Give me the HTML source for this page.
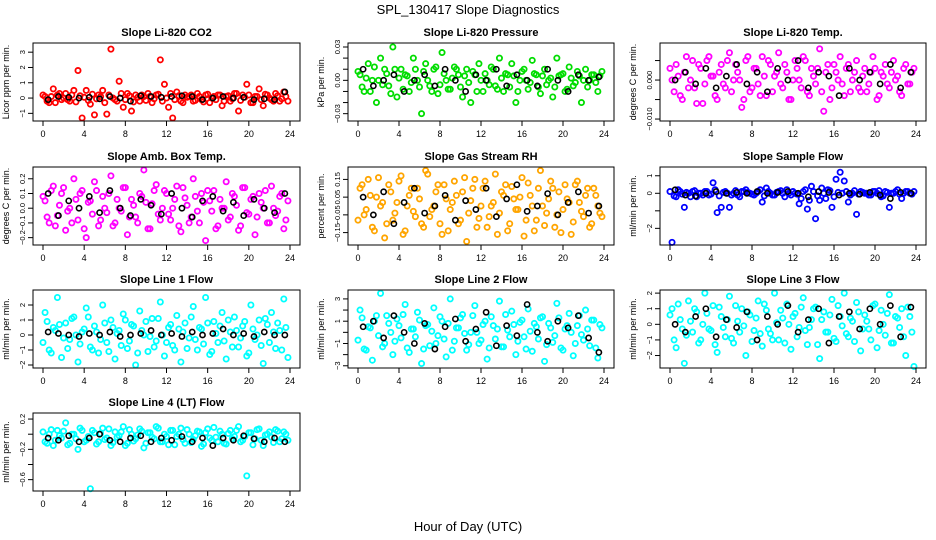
<!DOCTYPE html>
<html><head><meta charset="utf-8"><style>
body{margin:0;background:#fff}
svg{display:block;font-family:"Liberation Sans",sans-serif}
</style></head><body>
<svg id="chart" width="936" height="540" xmlns="http://www.w3.org/2000/svg">
<text x="468" y="14" text-anchor="middle" font-size="13">SPL_130417  Slope Diagnostics</text>
<text x="468" y="531" text-anchor="middle" font-size="13">Hour of Day (UTC)</text>
</svg>
<script>
const hours60=[0.2,0.6,1.0,1.4,1.8,2.2,2.6,3.0,3.4,3.8,4.2,4.6,5.0,5.4,5.8,6.2,6.6,7.0,7.4,7.8,8.2,8.6,9.0,9.4,9.8,10.2,10.6,11.0,11.4,11.8,12.2,12.6,13.0,13.4,13.8,14.2,14.6,15.0,15.4,15.8,16.2,16.6,17.0,17.4,17.8,18.2,18.6,19.0,19.4,19.8,20.2,20.6,21.0,21.4,21.8,22.2,22.6,23.0,23.4,23.8];
const hours60b=[0.0,0.4,0.8,1.2,1.6,2.0,2.4,2.8,3.2,3.6,4.0,4.4,4.8,5.2,5.6,6.0,6.4,6.8,7.2,7.6,8.0,8.4,8.8,9.2,9.6,10.0,10.4,10.8,11.2,11.6,12.0,12.4,12.8,13.2,13.6,14.0,14.4,14.8,15.2,15.6,16.0,16.4,16.8,17.2,17.6,18.0,18.4,18.8,19.2,19.6,20.0,20.4,20.8,21.2,21.6,22.0,22.4,22.8,23.2,23.6];
const hours24=[0.5,1.5,2.5,3.5,4.5,5.5,6.5,7.5,8.5,9.5,10.5,11.5,12.5,13.5,14.5,15.5,16.5,17.5,18.5,19.5,20.5,21.5,22.5,23.5];
const xTicks=[0,4,8,12,16,20,24];

const co2Vals=[0.1,-0.3,0.6,0.2,-0.1,0.3,-0.2,0.5,1.8,-1.3,0.5,-0.4,-1.1,0.2,0.5,-1.05,3.2,-0.1,1.1,-0.6,0.3,-0.85,0.2,-0.2,0.1,0.3,-0.3,0.2,2.5,0.9,-0.6,-1.3,0.4,-0.2,0.2,0.1,-0.2,0.3,-0.1,0.2,-0.3,0.1,0.2,-0.5,0.1,-0.2,0.3,-0.85,0.2,0.9,-0.3,0.1,0.6,-0.5,0.2,-0.1,0.3,-0.2,0.4,-0.2];
const co2Core=[0.2,-0.2,0.1,-0.3,0.3,0.0,-0.1,0.2,-0.25,0.15,0.05,-0.15,0.25,-0.05,0.1,-0.3,0.2,0.0,-0.2,0.3,-0.1,0.15,-0.25,0.05,0.2,-0.15,0.1,-0.05,0.25,-0.2,0.0,0.3,-0.1,0.15,-0.3,0.05,0.2,-0.15,0.1,-0.25,0.25,0.0,-0.1,0.2,-0.2,0.15,-0.05,0.3,-0.15,0.05,0.2,-0.3,0.1,-0.1,0.25,0.0,-0.2,0.15,-0.05,0.1];
const co2Hourly=[-0.1,0.1,0.05,0.0,0.05,-0.05,0.1,0.0,-0.2,0.15,0.1,0.05,0.1,0.15,0.1,-0.1,0.0,0.1,0.0,0.05,-0.1,-0.05,-0.1,0.4];
const presVals=[0.005,-0.01,0.015,0.0,-0.02,0.02,0.01,-0.005,0.03,-0.015,0.01,0.005,-0.01,0.02,0.0,-0.03,0.015,-0.005,0.01,-0.012,0.025,0.0,-0.008,0.012,0.005,-0.015,0.01,-0.02,0.005,0.015,-0.01,0.0,0.012,-0.005,0.02,-0.01,0.005,0.015,-0.02,0.0,0.01,-0.008,0.018,0.005,-0.012,0.01,0.0,-0.015,0.02,0.005,-0.01,0.012,-0.005,0.008,-0.02,0.01,0.0,0.005,-0.01,0.008];
const presCore=[0.008,-0.006,0.002,-0.01,0.012,0.0,-0.004,0.006,-0.012,0.01,0.002,-0.008,0.004,-0.002,0.01,-0.006,0.008,0.0,-0.01,0.012,-0.004,0.006,-0.008,0.002,0.01,-0.006,0.004,-0.002,0.008,-0.01,0.0,0.006,-0.004,0.01,-0.008,0.002,0.006,-0.006,0.004,-0.01,0.008,0.0,-0.002,0.006,-0.006,0.004,-0.004,0.002,-0.006,0.004,0.006,-0.008,0.002,-0.002,0.004,0.0,-0.006,0.005,-0.002,0.004];
const presHourly=[0.01,-0.005,0.0,0.005,-0.01,0.0,0.005,-0.005,0.01,0.0,-0.01,0.005,0.0,0.01,-0.005,0.005,0.0,-0.005,0.01,0.0,-0.01,0.005,0.0,0.003];
const tempVals=[0.0,0.004,-0.004,0.002,-0.002,0.005,-0.006,0.003,-0.001,0.006,0.001,-0.005,0.004,-0.002,0.007,0.0,0.002,-0.007,0.005,-0.003,0.003,-0.001,0.006,-0.004,0.004,0.001,0.007,-0.002,0.002,-0.005,0.005,0.0,0.006,-0.003,0.003,-0.001,0.008,-0.008,0.004,-0.002,0.002,0.006,-0.004,0.004,0.0,0.005,-0.003,0.003,-0.001,0.006,-0.005,0.002,0.004,-0.002,0.005,0.001,-0.004,0.004,-0.001,0.003];
const tempCore=[0.003,-0.003,0.001,-0.005,0.006,0.0,-0.002,0.004,-0.006,0.005,0.001,-0.004,0.002,-0.001,0.005,-0.003,0.004,0.0,-0.005,0.006,-0.002,0.003,-0.004,0.001,0.005,-0.003,0.002,-0.001,0.004,-0.005,0.0,0.003,-0.002,0.005,-0.004,0.001,0.003,-0.003,0.002,-0.005,0.004,0.0,-0.001,0.003,-0.003,0.002,-0.002,0.001,-0.003,0.002,0.003,-0.004,0.001,-0.001,0.002,0.0,-0.003,0.003,-0.001,0.002];
const tempHourly=[0.0,0.002,-0.001,0.003,-0.002,0.001,0.004,-0.001,0.002,-0.003,0.003,0.0,0.005,-0.002,0.002,0.001,-0.004,0.003,0.0,0.002,-0.001,0.004,-0.002,0.002];
const ambVals=[0.05,-0.1,0.15,-0.05,0.1,-0.15,0.0,0.2,-0.08,0.12,-0.2,0.05,0.18,-0.12,0.08,-0.03,0.22,-0.1,0.0,0.14,-0.18,0.06,-0.06,0.1,0.26,-0.14,0.03,0.16,-0.08,0.12,-0.04,0.0,0.15,-0.16,0.07,-0.1,0.2,-0.02,0.1,-0.22,0.05,0.12,-0.12,0.0,0.18,-0.06,0.08,-0.15,0.14,-0.03,0.06,-0.18,0.1,0.0,-0.1,0.15,-0.05,0.08,-0.14,0.05];
const ambCore=[0.08,-0.06,0.12,-0.12,0.02,0.14,-0.02,-0.1,0.06,0.1,-0.14,0.04,-0.04,0.12,-0.08,0.0,0.1,-0.12,0.06,-0.02,0.14,-0.06,0.02,-0.1,0.08,0.04,-0.14,0.12,-0.04,0.0,0.1,-0.08,0.06,-0.12,0.14,0.02,-0.06,0.08,-0.1,0.04,0.12,-0.02,-0.14,0.06,0.0,-0.08,0.1,0.02,-0.12,0.14,-0.04,0.08,-0.06,0.04,0.12,-0.1,0.0,-0.02,0.1,-0.08];
const ambHourly=[0.1,-0.05,0.05,0.0,0.08,-0.03,0.12,0.0,-0.05,0.06,0.02,-0.04,0.1,0.0,-0.06,0.05,0.08,-0.02,0.04,-0.05,0.06,0.0,-0.03,0.1];
const rhVals=[0.1,-0.05,0.15,-0.12,0.05,0.0,-0.18,0.12,-0.08,0.02,0.17,-0.14,0.06,-0.03,0.1,-0.1,0.2,-0.06,0.0,0.12,-0.16,0.04,-0.02,0.14,-0.1,0.08,-0.2,0.03,0.15,-0.07,0.1,-0.12,0.0,0.18,-0.04,0.06,-0.14,0.11,-0.02,0.05,-0.17,0.13,0.0,-0.08,0.2,-0.11,0.04,0.1,-0.05,-0.15,0.12,0.02,-0.09,0.14,-0.03,0.06,-0.12,0.1,0.0,-0.06];
const rhCore=[-0.08,0.12,-0.02,0.06,-0.14,0.16,0.02,-0.1,0.08,-0.04,0.14,-0.16,0.0,0.1,-0.06,0.04,-0.12,0.18,-0.02,0.08,-0.1,0.12,-0.14,0.02,0.06,-0.08,0.16,-0.04,0.1,-0.12,0.0,0.14,-0.06,0.02,-0.16,0.08,0.12,-0.1,0.04,-0.02,0.16,-0.08,0.06,-0.14,0.1,0.0,-0.04,0.14,-0.12,0.08,-0.02,0.04,-0.16,0.12,0.02,-0.06,0.1,-0.1,0.06,-0.04];
const rhHourly=[0.05,-0.05,0.08,-0.1,0.02,0.1,-0.04,0.0,0.06,-0.08,0.03,-0.02,0.1,-0.06,0.04,0.12,-0.03,0.0,0.07,-0.05,0.02,0.08,-0.04,0.0];
const sampleVals=[-2.8,-0.2,0.1,-0.8,0.0,0.1,-0.2,0.0,0.1,-0.1,0.6,-1.1,-0.8,0.1,-0.8,0.0,-0.1,0.1,0.2,0.0,-0.1,0.1,-0.5,0.3,0.0,-0.1,0.1,0.0,0.2,-0.1,0.0,-0.6,0.1,-0.9,0.4,-1.45,-0.4,0.0,0.2,-0.8,0.8,1.2,0.7,-0.5,0.0,-1.2,0.1,0.0,-0.1,0.1,0.0,-0.2,0.1,-0.8,0.0,0.2,-0.3,0.1,0.0,0.1];
const sampleCore=[0.1,-0.15,0.2,-0.05,0.05,-0.2,0.15,0.0,-0.1,0.1,-0.05,0.2,-0.15,0.05,0.0,-0.1,0.15,-0.2,0.1,0.05,-0.05,0.0,0.2,-0.15,0.1,-0.1,0.05,0.15,-0.2,0.0,0.1,-0.05,-0.3,0.2,-0.4,0.1,-0.15,0.3,-0.3,0.15,-0.2,0.05,0.0,0.1,-0.1,0.15,-0.05,0.05,0.0,-0.1,0.1,0.15,-0.15,0.05,0.0,0.1,-0.05,0.0,0.1,-0.05];
const sampleHourly=[0.2,-0.1,-0.15,0.0,0.1,0.0,0.05,0.0,0.1,0.0,0.05,0.1,0.0,-0.2,0.1,0.05,-0.1,0.0,-0.05,0.05,-0.1,-0.3,0.05,0.0];
const line1Vals=[1.5,-1.0,0.5,2.5,-1.5,0.8,-0.3,1.2,-1.8,0.2,1.8,-0.8,0.6,-1.2,2.0,-0.5,1.0,-1.6,0.3,1.4,-0.9,0.7,-2.0,1.6,0.0,-1.1,1.1,-0.4,2.2,-1.4,0.5,-0.7,1.3,-1.8,0.8,-0.2,1.9,-1.0,0.4,2.5,-1.3,0.9,-0.5,1.5,-1.6,0.2,1.2,-0.8,0.6,-1.4,2.0,-0.3,1.0,-1.9,0.7,1.5,-0.9,0.3,2.4,-1.5];
const line1Core=[-0.5,0.9,-1.2,0.3,0.7,-0.2,-0.9,1.1,0.0,-0.6,0.4,1.2,-1.0,0.2,-0.3,0.8,-1.1,0.5,0.1,-0.7,1.0,-0.4,0.6,-1.2,0.3,0.9,-0.1,-0.8,1.1,0.0,-0.5,0.7,-1.0,0.4,0.2,-0.9,1.2,-0.3,0.5,-0.6,0.8,-1.1,0.1,0.6,-0.4,1.0,-0.8,0.3,-0.2,0.9,-1.2,0.4,0.0,-0.7,1.1,-0.5,0.2,0.8,-1.0,0.5];
const line1Hourly=[0.2,0.1,0.0,-0.1,0.1,0.0,0.2,-0.1,0.0,0.1,0.3,0.0,0.1,-0.1,0.2,0.0,0.1,0.4,0.0,0.1,-0.1,0.2,0.0,0.0];
const line2Vals=[2.0,-1.5,0.5,-2.5,1.5,3.5,-1.0,0.8,-2.0,1.2,-0.5,2.5,-1.8,0.3,1.8,-2.8,0.6,-1.2,2.2,-0.3,1.0,-2.2,3.0,-0.8,0.4,1.6,-1.6,0.0,2.4,-1.0,0.7,-2.4,1.4,-0.6,2.8,-1.3,0.2,1.9,-2.0,0.9,-0.4,2.1,-1.7,0.5,1.3,-2.6,0.8,-0.9,2.6,-1.4,0.3,1.7,-2.1,0.6,-0.2,2.0,-1.2,1.1,-2.3,0.4];
const line2Core=[-0.7,1.3,-1.6,0.4,1.0,-0.3,-1.3,1.5,0.0,-0.8,0.6,1.6,-1.4,0.3,-0.4,1.1,-1.5,0.7,0.1,-1.0,1.4,-0.6,0.8,-1.6,0.4,1.3,-0.1,-1.1,1.5,0.0,-0.7,1.0,-1.4,0.6,0.3,-1.3,1.6,-0.4,0.7,-0.8,1.1,-1.5,0.1,0.8,-0.6,1.4,-1.1,0.4,-0.3,1.3,-1.6,0.6,0.0,-1.0,1.5,-0.7,0.3,1.1,-1.4,0.7];
const line2Hourly=[0.5,1.0,-0.5,1.5,0.0,-1.0,0.8,-1.5,0.5,1.2,-0.8,0.3,1.8,-1.2,0.6,-0.3,2.5,0.0,-0.8,1.0,0.4,1.5,-0.5,-1.8];
const line3Vals=[1.0,-1.5,0.3,-2.5,1.5,-0.5,0.8,-1.0,2.0,-0.3,1.2,-1.8,0.5,-0.8,1.8,-1.2,0.2,1.0,-2.0,0.6,-0.4,1.5,-1.4,0.9,-0.6,2.0,-1.0,0.4,1.3,-1.6,0.7,-0.2,1.7,-1.3,0.3,1.1,-2.2,0.8,-0.5,1.6,-1.1,0.5,2.0,-0.8,0.2,1.4,-1.7,0.6,-0.3,1.2,-1.5,0.9,-0.7,1.9,-1.2,0.4,1.0,-2.0,0.5,-2.7];
const line3Core=[0.6,-1.0,1.3,-0.3,-0.7,0.2,1.0,-1.2,0.0,0.7,-0.4,-1.3,1.1,-0.2,0.3,-0.9,1.2,-0.5,-0.1,0.8,-1.1,0.4,-0.6,1.3,-0.3,-1.0,0.1,0.9,-1.2,0.0,0.5,-0.8,1.1,-0.4,-0.2,1.0,-1.3,0.3,-0.5,0.6,-0.9,1.2,-0.1,-0.6,0.4,-1.1,0.8,-0.3,0.2,-1.0,1.3,-0.4,0.0,0.7,-1.2,0.5,-0.2,-0.8,1.1,-0.5];
const line3Hourly=[0.0,-0.5,0.5,1.0,-0.8,0.3,-0.2,0.8,-1.0,0.5,0.0,1.2,-0.5,0.3,1.0,-1.2,0.5,0.8,-0.3,1.0,0.0,1.2,-0.8,1.1];
const line4Vals=[-0.1,0.0,-0.15,0.05,-0.05,0.15,-0.12,0.0,-0.2,0.05,-0.08,-0.72,0.02,-0.1,0.08,-0.05,-0.15,0.03,-0.02,0.1,-0.12,0.0,-0.06,0.07,-0.18,0.02,-0.04,0.1,-0.1,0.0,-0.14,0.05,-0.03,0.08,-0.12,0.0,-0.07,0.04,-0.16,0.02,-0.05,0.09,-0.1,0.0,-0.13,0.05,-0.03,0.1,-0.08,-0.55,0.02,-0.06,0.07,-0.15,0.0,-0.04,0.06,-0.1,0.03,-0.08];
const line4Core=[0.03,-0.12,0.06,-0.08,-0.02,0.04,-0.14,0.0,-0.06,0.08,-0.1,-0.03,0.05,-0.13,0.01,-0.07,0.07,-0.11,-0.04,0.03,-0.15,0.06,-0.09,-0.01,0.04,-0.12,0.02,-0.06,0.08,-0.1,-0.03,0.05,-0.14,0.0,-0.07,0.06,-0.11,-0.02,0.03,-0.13,0.07,-0.08,-0.04,0.04,-0.12,0.01,-0.06,0.05,-0.1,-0.03,0.02,-0.14,0.06,-0.08,-0.01,0.03,-0.11,0.04,-0.06,0.0];
const line4Hourly=[-0.05,-0.08,-0.02,-0.1,-0.05,0.0,-0.08,-0.1,-0.05,-0.02,-0.1,-0.05,-0.08,-0.03,-0.1,-0.05,-0.15,-0.05,-0.08,-0.02,-0.06,-0.1,-0.05,-0.1];

const panels=[
 {t:"Slope Li-820 CO2",yl:"Licor ppm per min.",c:"#ff0000",v:co2Vals,b:co2Core,h:co2Hourly,y0:-1.5,y1:3.6,ticks:[-1,0,1,2,3],labs:["\u22121","0","1","2","3"]},
 {t:"Slope Li-820 Pressure",yl:"kPa per min.",c:"#00dd00",v:presVals,b:presCore,h:presHourly,y0:-0.0366,y1:0.0336,ticks:[-0.03,-0.02,-0.01,0,0.01,0.02,0.03],labs:["\u22120.03","","","0.00","","","0.03"]},
 {t:"Slope Li-820 Temp.",yl:"degrees C per min.",c:"#ff00ff",v:tempVals,b:tempCore,h:tempHourly,y0:-0.0105,y1:0.0095,ticks:[-0.01,-0.005,0,0.005],labs:["\u22120.010","","0.000",""]},
 {t:"Slope Amb. Box Temp.",yl:"degrees C per min.",c:"#ff00ff",v:ambVals,b:ambCore,h:ambHourly,y0:-0.25,y1:0.28,ticks:[-0.2,-0.1,0,0.1,0.2],labs:["\u22120.2","\u22120.1","0.0","0.1","0.2"]},
 {t:"Slope Gas Stream RH",yl:"percent per min.",c:"#ffa500",v:rhVals,b:rhCore,h:rhHourly,y0:-0.22,y1:0.22,ticks:[-0.15,-0.05,0.05,0.15],labs:["\u22120.15","\u22120.05","0.05","0.15"]},
 {t:"Slope Sample Flow",yl:"ml/min per min.",c:"#0000ff",v:sampleVals,b:sampleCore,h:sampleHourly,y0:-2.95,y1:1.5,ticks:[-2,-1,0,1],labs:["\u22122","","0","1"]},
 {t:"Slope Line 1 Flow",yl:"ml/min per min.",c:"#00ffff",v:line1Vals,b:line1Core,h:line1Hourly,y0:-2.2,y1:3.0,ticks:[-2,-1,0,1,2],labs:["\u22122","\u22121","0","1","2"]},
 {t:"Slope Line 2 Flow",yl:"ml/min per min.",c:"#00ffff",v:line2Vals,b:line2Core,h:line2Hourly,y0:-3.2,y1:3.8,ticks:[-3,-2,-1,0,1,2,3],labs:["\u22123","","\u22121","","1","","3"]},
 {t:"Slope Line 3 Flow",yl:"ml/min per min.",c:"#00ffff",v:line3Vals,b:line3Core,h:line3Hourly,y0:-2.8,y1:2.2,ticks:[-2,-1,0,1,2],labs:["\u22122","\u22121","0","1","2"]},
 {t:"Slope Line 4 (LT) Flow",yl:"ml/min per min.",c:"#00ffff",v:line4Vals,b:line4Core,h:line4Hourly,y0:-0.75,y1:0.28,ticks:[-0.6,-0.4,-0.2,0,0.2],labs:["\u22120.6","","\u22120.2","","0.2"]}
];
const colL=[33,348,660], colR=[300,614,926], rowT=[43,167,290,413], BH=78;
const svg=document.getElementById('chart');
const NS="http://www.w3.org/2000/svg";
function mk(tag,attrs,parent){const e=document.createElementNS(NS,tag);for(const k in attrs)e.setAttribute(k,attrs[k]);(parent||svg).appendChild(e);return e;}
panels.forEach((p,i)=>{
  const L=colL[i%3],R=colR[i%3],T=rowT[Math.floor(i/3)],B=T+BH;
  const g=mk('g',{});
  
  
  const xs=h=>L+10+(h/24)*(R-L-20);
  const ys=v=>B-(v-p.y0)/(p.y1-p.y0)*BH;
  const title=mk('text',{x:(L+R)/2,y:T-7,'text-anchor':'middle','font-size':11,'font-weight':'bold'},g);
  title.textContent=p.t;
  
  
  const yl=mk('text',{transform:`translate(${L-24},${(T+B)/2}) rotate(-90)`,'text-anchor':'middle','font-size':9},g);
  yl.textContent=p.yl;
  
  
  p.b.forEach((v,k)=>{
    const c=mk('circle',{cx:xs(hours60b[k]),cy:ys(v),r:2.6,fill:'none',stroke:p.c,'stroke-width':1.8},g);
    
    
  });
  p.v.forEach((v,k)=>{
    const c=mk('circle',{cx:xs(hours60[k]),cy:ys(v),r:2.6,fill:'none',stroke:p.c,'stroke-width':1.8},g);
    
    
  });
  p.h.forEach((v,k)=>{
    const c=mk('circle',{cx:xs(hours24[k]),cy:ys(v),r:2.6,fill:'none',stroke:'#000','stroke-width':1.6},g);
    
    
  });
  const box=mk('rect',{x:L,y:T,width:R-L,height:BH,fill:'none',stroke:'#000','stroke-width':1},g);
  
  
  mk('line',{x1:xs(0),x2:xs(24),y1:B,y2:B,stroke:'#000'},g);
  xTicks.forEach(t=>{
    mk('line',{x1:xs(t),x2:xs(t),y1:B,y2:B+5,stroke:'#000'},g);
    const tl=mk('text',{x:xs(t),y:B+16,'text-anchor':'middle','font-size':9},g);
    tl.textContent=t;
    
    
  });
  p.ticks.forEach((t,k)=>{
    mk('line',{x1:L-5,x2:L,y1:ys(t),y2:ys(t),stroke:'#000'},g);
    if(p.labs[k]){
      const tl=mk('text',{transform:`translate(${L-8},${ys(t)}) rotate(-90)`,'text-anchor':'middle','font-size':7.5},g);
      tl.textContent=p.labs[k];
      
      
    }
  });
  mk('line',{x1:L,x2:L,y1:ys(p.ticks[0]),y2:ys(p.ticks[p.ticks.length-1]),stroke:'#000'},g);
});
</script>
</body></html>
